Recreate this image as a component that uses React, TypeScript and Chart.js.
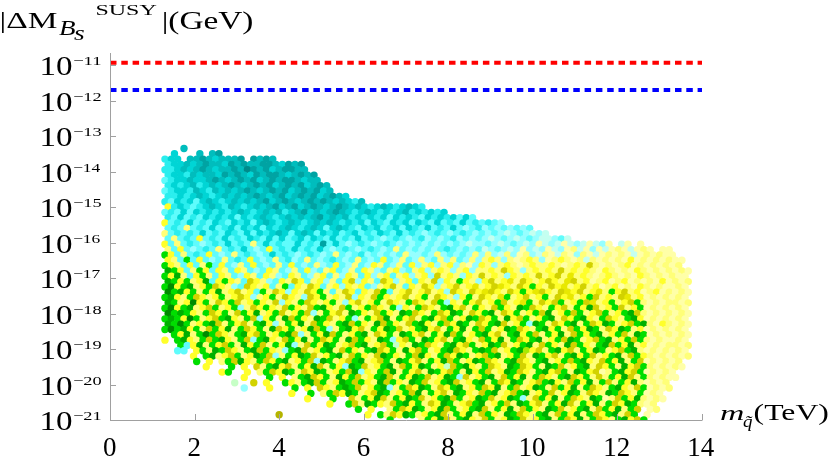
import { useEffect, useRef } from "react";
import { Chart, registerables } from "chart.js";

Chart.register(...registerables);

// ---- axes / reference lines ----
const xTickValues = [0, 2, 4, 6, 8, 10, 12, 14];
const yTickExponents = [-21, -20, -19, -18, -17, -16, -15, -14, -13, -12, -11];
const limitSpan = [0, 14];
const redLimit = [1.17e-11];
const blueLimit = [2.0e-12];

// ---- scatter cloud read from the picture as a colour map ----
// columns: m_q from 1.30 TeV in steps of 0.15 TeV (odd rows offset half a step)
// rows: log10|dM| from -13.35 downward in steps of 0.15 decade
const mapX0 = 1.3;
const mapDX = 0.15;
const mapLogY0 = -13.35;
const mapDLogY = 0.15;

const scatterMap = [
  "...C",
  ".A...C.CT",
  "BAA.CCTCAC|CCT.TCTC",
  "BAACACTCCA|TCTCCTTCAT|CT",
  "BBACACTCAC|CTCUTCTACT|TCC",
  "BAABCACCAT|CTCATCTTCA|CTCT",
  "bBAACAACTC|ACTCTACTCT|TCACC",
  "BABACBACAC|TCACTCTACT|CTACTC",
  "bBAABCABCA|CACTCACTCT|ACTCTAC",
  "BBABACABAC|ACACTCACTA|CTCTACTCA",
  "BbABAbACAB|ACACACTACT|CACTCTCACA|BC",
  "YBABbBACAB|CABACACTAC|TACTCACTCA|CABACABACA|B",
  "bBbAbABABA|BACABACACB|ACTACACTCA|BACABABACB|ABABA",
  "BbAbBbABAB|AbABACABAC|ACACTACACB|ABABAbABAB|bABABAbAb",
  "YbBbAbBbAB|bABAbACABA|CABACACABA|BAbABbABAb|ABbAbBbAbB|bBbP",
  "bBbLbBbAbB|AbABAbABAC|ABACAbACAB|bABAbBAbAB|bAbBbAbPbB|PbPbPbPb",
  "LbBbBbAbBb|ABbAbABACA|bACAbABAbB|AbBbABbAbB|bPbBbPbBbP|bPbPQPbPQP|Q",
  "bLbBbYbBbA|bBbABbAbAb|BAbABbAbBb|AbBbPbBbPb|BPbPbBPbPb|PQPbPQPbPQ|QPbQ.",
  "YbLbBbPbBb|AbBbLbAbBb|bAbBbTbAbP|bBbPbBbPbP|bPbPbPbPQP|PbPQPbPQPW|QPQWQPQWQP|W.QW.W.",
  "LbYbPbBbLb|BbAbPbYbBb|AbBbAbPbBb|PbBbPbLbPb|PbPbBbPbPb|QPbPQPWPQP|WQPWLQWPWQ|WLWQWLW.WW",
  "GYbLbBbYbP|bLbBbPbAbB|bPbBbPbLbP|bBPbPbPbLP|PbPLPbPbPL|PLPQLPWLPQ|LWQLWPLWQW|LWLWQWLWLW|W",
  "YLbGbYbPbL|bBbYbPbLbB|PbLbPbBbPb|LbPbYbPLbP|LPbLPLbPLP|LYLPLWLYLP|WLYLWLQLWL|WLWYWLWLWL|WW",
  "GYLbYbLGbY|bPLbYbPbLb|YbPbLPbYbP|LbPYLbPLbY|PLYPLYPLWP|YLPLYLWLYL|LYLWLYLOLW|LWLYWLWLWL|WL",
  "DGYbLGYbYL|bYLbPbYLbP|LbYPbLYbPL|bYLPbLYPbL|YPLYLPLYPL|LYLOYLPLYL|YLOLYLYLWY|LWLWYLWLWL|WLW",
  "GYDLbYGLbY|LbPYLbYLPb|YLbPLYbLPY|LbYPLYbLYP|LYPOLYLPYL|OLYLPYLYLO|LYOLZLYLWL|YLWLWYLWLW|LWW",
  "DGYGLYDbYG|YLbOYLPbYL|OYbLYPLbYO|PYLbOYPLYb|YLOPYLGYLP|YOLYZLOYLY|OYLZOLYWLY|WLYWLWLWYW|LWL",
  "GEYGDLYGOY|LPbOYLYbLG|bYLOYbLYPY|LYbPLYOLbY|LOYPLYOLYZ|LYOZYLOYGY|LOYZLYOLYW|LYWLWYLWLW|WLW",
  "EGDYGLGYDL|YOLYbGLOYP|YLOYGLbLOY|bYLOGbLYOL|YOLYPOYLOY|ZOYLOYGYZO|YLOZYOLYZL|GYOLYWLYWL|WLW",
  "GDYLGOYLYG|LYOYPLYGLO|YLPOYGLYLO|PYLOGYLYOL|YGLOYLPYGL|OYLZGLYOLY|GLOYZLYGOL|YLOZLYWLWL|WLW",
  "DGLYEYGLOY|GOLYGYLOPY|LGOYLYGLPY|OLYGLOYLGO|YLOGPYLGYO|LYGOLYZGLO|YOGLYGOZLY|GLYOGLWLWL|LWL",
  "GEYGDLYOGL|YGPLOYGYLO|GYLOGDYLOG|LYGOYLGPYL|GOYLGDYOLG|YLOGYLDGOY|LGYOLGYDOL|YGOLYGWLWL|WLW",
  "EGDGYLGOYG|LOGYDLYGOL|YGOPLGYOLD|GYLOGYLDGO|YLGOYDGLOY|GDLOYGLYGO|DLYGOGLYOG|LYGDOLWLWL|WLW",
  "GDGYEGLYOG|DYLGOPYGLD|OGYLDGOLYG|PLGYODLGYO|LGDYOGLYDG|OYGLDYOGLY|GDLOYGDYLG|OYLGDYWLWL|WLW",
  "DGEGLYGDOL|GYOLGDYPLG|YDLOGYLGDO|GYLDOGYLOG|DYLGOYDGLO|YGDOLYGPDG|LOYGDLGOYD|GLYOGDLWYL|WLW",
  "GEGDYGLOGY|DLGOYGLDOY|GLYDOGPLGD|YOLGYDGOLY|GDYOLGYDLG|OGLYDGOYLG|DYGLOGYDGL|OYDGLYWLWL|WLW",
  ".GYDLGEGOY|LGDYOGLYGD|OPLGYDOGLY|GDLOYGLDGY|OLGYDOGLYG|DYOLGDYGOL|GYDLOGYGDL|YGOLDGWLWL|WLW",
  "Y.GDYLGOGD|YLGOPGDYLO|GYDLGOYGLD|OGYLDGPYOG|LDGYOLGDYL|OGYDLGOYGD|LYGODGLYOG|DLYGOGLWLW|WLW",
  "..GbYDLGYO|GLDYGOLGYD|PLOGYDGLYO|GDLYOGMYLD|GOYLGDYOGL|YDGOLYGDLO|GYLDOGYLGD|OGYDLYWLWL|LWL",
  "..bb.YGLDG|OYLGDOGYLP|GDOLYGDLOG|YLGDOYGLDY|OGLYGDOYLG|DGOLYGDHYO|LGDYOLGYDG|LYOGDLWLWL|WLW",
  "....Y.GDLY|OGLYDGOPLG|YDGOLYGDLO|GYLODGYLGO|DYLGOYDGLY|OGDLYGOLDG|YOLGDYGOLY|GDLOGYLWLW|LWL",
  ".....G.Y.L|GODYLGOYGD|LYGOPDGLYO|GDLYOGLDGY|OLGYDOGLYD|GOYLGDOYLG|DLYGOGDYLO|GYDLGOWLWL|WL",
  "......Y...|G.Y.OLGDYO|LGYDOLGYPD|GOLYGDLOGY|DGLYMOGDYL|GOYLDGOYGL|DGOLYGDLOY|GLDYOGLWLW|LW",
  ".........Y|G..Y.LGOYD|GLOYDGLYGO|DPYLGODLGY|OLDGYOGLDY|GOLYDGOYLG|DYOGLDGYOW|LGDYOGWLWL|W",
  "..........|..Y...G.Y.|LGDOYGLDYG|OLYGDOLGYD|GOLYDGPOLY|GDLOGYDLGO|YLGDOYGLOL|GYDOLGLWLW|W",
  "..........|.M..O.Y..G|YLGDOGLYDG|OGYLDOGYLD|GOLYGDOLYG|DLGOYDGLYO|GDYLOGYDLG|OLGYDLWLWL",
  "..........|..P...Y...|G.Y.OYLGDG|OLYGDPLGOY|DGLOYGDLYG|OYDLGOLYDG|LOGYDLGOYL|GDYLOGWLWL",
  "..........|..........|Y..G.LGOYD|GLYODGLYGO|DLGYOLDGYL|OGDLYOGDLY|GOLYDGLOYL|DGOYLGWLW",
  "..........|..........|..Y...G..O|LGYDOLGYDG|OLYGDOGLYD|GOLYDGPLOG|YDLGOYLDGW|LOGYDLWLW",
  "..........|..........|......Y..G|OLDGYLOGDY|GLOYDGLYOG|DLYGOLDGYO|LGYDOLGYDL|GOYDGLWL",
  "..........|..........|..........|G.Y..LGOYD|GLYDOGLYGD|OLGYDLOGYL|DGOLYGDLOG|YDLGO.WL",
  "..........|........K.|..........|..Y.GLOYDG|LYGDOLGYDL|OGYLDGOYLG|DLOGYDLGOY|GDLOG.W",
  "..........|..........|..........|.....G....|LGYDOLGDYL|OGLYDGOLYG|DLGOYDLGOY|LGDYOG",
];

const palette: Record<string, string> = {
  U: "#008a8a",
  T: "#00a3a3",
  C: "#00bdbd",
  A: "#00d5d5",
  B: "#2aeeee",
  b: "#5ffcfc",
  P: "#96ffff",
  Q: "#c4fff0",
  Y: "#ffff2a",
  Z: "#e8e800",
  L: "#ffff78",
  W: "#ffffa8",
  O: "#d2d200",
  K: "#b4b400",
  G: "#00de00",
  D: "#00b000",
  E: "#008a00",
  H: "#a6ea00",
  M: "#c6ffc6",
};

function buildScatter() {
  const pts: { x: number; y: number }[] = [];
  const cols: string[] = [];
  scatterMap.forEach((row, r) => {
    const chunks = row.split("|");
    const cells = chunks
      .map((ch, i) => (i < chunks.length - 1 ? ch.padEnd(10, ".").slice(0, 10) : ch))
      .join("");
    for (let c = 0; c < cells.length; c++) {
      const color = palette[cells[c]];
      if (!color) continue;
      pts.push({
        x: mapX0 + mapDX * c + (r % 2 ? mapDX / 2 : 0),
        y: Math.pow(10, mapLogY0 - mapDLogY * r),
      });
      cols.push(color);
    }
  });
  return { pts, cols };
}

const SERIF = '"Liberation Serif", "Times New Roman", serif';

function inkText(
  ctx: CanvasRenderingContext2D,
  text: string,
  font: string,
  left: number,
  baseline: number,
  width?: number
) {
  ctx.font = font;
  ctx.textAlign = "left";
  ctx.textBaseline = "alphabetic";
  const m = ctx.measureText(text);
  const ink = m.actualBoundingBoxLeft + m.actualBoundingBoxRight;
  const sx = width && ink > 0 ? width / ink : 1;
  ctx.save();
  ctx.translate(left, baseline);
  ctx.scale(sx, 1);
  ctx.fillText(text, m.actualBoundingBoxLeft, 0);
  ctx.restore();
}

const axesPlugin = {
  id: "mmaAxes",
  afterDraw(chart: any) {
    const ctx: CanvasRenderingContext2D = chart.ctx;
    const a = chart.chartArea;
    const xs = chart.scales.x;
    const ys = chart.scales.y;
    ctx.save();
    ctx.strokeStyle = "#a0a0a0";
    ctx.lineWidth = 1;
    ctx.beginPath();
    ctx.moveTo(a.left + 0.5, a.top);
    ctx.lineTo(a.left + 0.5, a.bottom + 0.5);
    ctx.lineTo(a.right + 0.5, a.bottom + 0.5);
    ctx.stroke();
    ctx.beginPath();
    xTickValues.forEach((v) => {
      if (v === 0) return;
      const px = Math.round(xs.getPixelForValue(v)) + 0.5;
      ctx.moveTo(px, a.bottom);
      ctx.lineTo(px, a.bottom - 6);
    });
    yTickExponents.forEach((e) => {
      const py = Math.round(ys.getPixelForValue(Math.pow(10, e))) + 0.5;
      ctx.moveTo(a.left, py);
      ctx.lineTo(a.left + 6, py);
    });
    ctx.stroke();

    ctx.fillStyle = "#000";
    // x tick labels
    xTickValues.forEach((v) => {
      const px = xs.getPixelForValue(v);
      const t = String(v);
      ctx.font = `27px ${SERIF}`;
      const m = ctx.measureText(t);
      const w = m.actualBoundingBoxLeft + m.actualBoundingBoxRight;
      inkText(ctx, t, `27px ${SERIF}`, px - w / 2, 456);
    });
    // y tick labels 10^n
    yTickExponents.forEach((e) => {
      const py = ys.getPixelForValue(Math.pow(10, e));
      inkText(ctx, "10", `27px ${SERIF}`, 42, py + 10, 30);
      inkText(ctx, "\u2212" + String(-e), `13px ${SERIF}`, 73, py, 28);
    });
    // y axis title |ΔM_Bs^SUSY|(GeV)
    inkText(ctx, "|\u0394M", `24px ${SERIF}`, 1, 28, 56);
    inkText(ctx, "B", `italic 22px ${SERIF}`, 59, 35, 16);
    inkText(ctx, "s", `italic 20px ${SERIF}`, 74, 40, 11);
    inkText(ctx, "SUSY", `15px ${SERIF}`, 97, 15, 60);
    inkText(ctx, "|(GeV)", `25px ${SERIF}`, 163, 29, 90);
    // x axis title m_q~(TeV)
    inkText(ctx, "m", `italic 22px ${SERIF}`, 720, 420, 23);
    inkText(ctx, "q\u0303", `italic 17px ${SERIF}`, 743, 427, 10);
    inkText(ctx, "(TeV)", `23px ${SERIF}`, 755, 420, 73);
    ctx.restore();
  },
};

export default function App() {
  const ref = useRef<HTMLCanvasElement | null>(null);

  useEffect(() => {
    document.body.style.margin = "0";
    const canvas = ref.current;
    if (!canvas) return;
    const { pts, cols } = buildScatter();
    const chart = new Chart(canvas, {
      type: "scatter",
      data: {
        datasets: [
          {
            data: pts,
            pointBackgroundColor: cols,
            backgroundColor: cols,
            pointBorderWidth: 0,
            borderWidth: 0,
            pointRadius: 3.7,
            pointHoverRadius: 3.7,
            clip: 0,
          } as any,
          {
            type: "line",
            data: limitSpan.map((x) => ({ x, y: redLimit[0] })),
            borderColor: "#ff0000",
            borderWidth: 4,
            borderDash: [6.5, 4.8],
            borderCapStyle: "butt",
            pointRadius: 0,
            fill: false,
            clip: false,
          } as any,
          {
            type: "line",
            data: limitSpan.map((x) => ({ x, y: blueLimit[0] })),
            borderColor: "#0000ff",
            borderWidth: 4,
            borderDash: [6.5, 4.8],
            borderCapStyle: "butt",
            pointRadius: 0,
            fill: false,
            clip: false,
          } as any,
        ],
      },
      options: {
        animation: false,
        responsive: false,
        events: [],
        layout: { padding: { left: 110, right: 128, top: 53, bottom: 41 } },
        plugins: { legend: { display: false }, tooltip: { enabled: false } },
        scales: {
          x: { type: "linear", min: 0, max: 14, display: false },
          y: { type: "logarithmic", min: 1e-21, max: Math.pow(10, -10.66), display: false },
        },
      } as any,
      plugins: [axesPlugin],
    });
    return () => chart.destroy();
  }, []);

  return (
    <canvas
      ref={ref}
      width={830}
      height={461}
      style={{ display: "block", width: 830, height: 461 }}
    />
  );
}
